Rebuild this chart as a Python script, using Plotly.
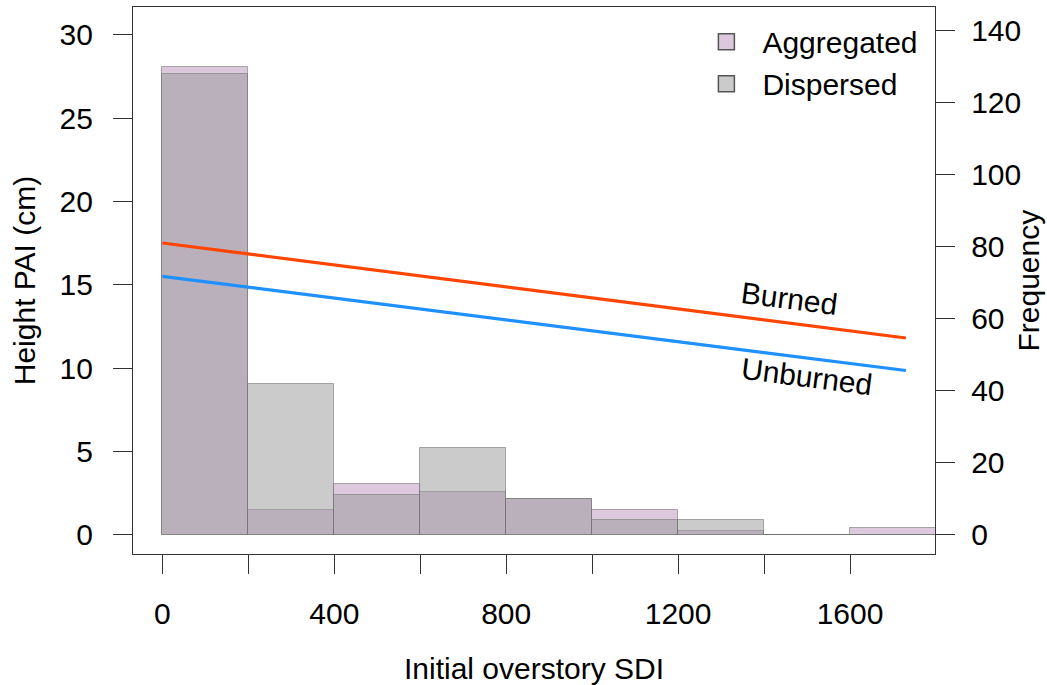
import plotly.graph_objects as go

# ---- data ----
bin_centers = [100, 300, 500, 700, 900, 1100, 1300, 1500, 1700]
aggregated = [130, 7, 14, 12, 10, 7, 1, 0, 2]
dispersed = [128, 42, 11, 24, 10, 4, 4, 0, 0]
line_x = [0, 1730]
burned = [17.5, 11.8]
unburned = [15.5, 9.85]
x_tickvals = [0, 200, 400, 600, 800, 1000, 1200, 1400, 1600]
x_ticktext = ["0", "", "400", "", "800", "", "1200", "", "1600"]

FONT = "Liberation Sans, Arial, sans-serif"
FS = 30
AX = "#333333"
PINK = "rgba(187,147,189,0.5)"
GRAY = "rgba(151,151,151,0.5)"

fig = go.Figure()
fig.add_trace(go.Bar(x=bin_centers, y=aggregated, width=200, name="Aggregated",
                     marker=dict(color=PINK, line=dict(color="rgba(110,110,110,0.55)", width=1)),
                     yaxis="y", showlegend=False, legendgroup="agg"))
fig.add_trace(go.Bar(x=bin_centers, y=dispersed, width=200, name="Dispersed",
                     marker=dict(color=GRAY, line=dict(color="rgba(110,110,110,0.55)", width=1)),
                     yaxis="y", showlegend=False, legendgroup="disp"))
# legend entries (square keys like the reference)
fig.add_trace(go.Scatter(x=[None], y=[None], mode="markers", name="Aggregated", legendgroup="agg",
                         marker=dict(symbol="square", size=22, color="#dcc8dd",
                                     line=dict(color="#555555", width=1.5)), yaxis="y"))
fig.add_trace(go.Scatter(x=[None], y=[None], mode="markers", name="Dispersed", legendgroup="disp",
                         marker=dict(symbol="square", size=22, color="#cbcbcb",
                                     line=dict(color="#555555", width=1.5)), yaxis="y"))
fig.add_trace(go.Scatter(x=line_x, y=burned, mode="lines", line=dict(color="#FF4500", width=3.2),
                         showlegend=False, yaxis="y2"))
fig.add_trace(go.Scatter(x=line_x, y=unburned, mode="lines", line=dict(color="#1E90FF", width=3.2),
                         showlegend=False, yaxis="y2"))

fig.add_annotation(x=1458, y=14.2, xref="x", yref="y2", text="Burned", showarrow=False,
                   textangle=7.3, font=dict(family=FONT, size=FS, color="black"))
fig.add_annotation(x=1500, y=9.5, xref="x", yref="y2", text="Unburned", showarrow=False,
                   textangle=7.3, font=dict(family=FONT, size=FS, color="black"))
# right axis title
fig.add_annotation(x=1.116, y=0.5, xref="paper", yref="paper", text="Frequency", showarrow=False,
                   textangle=-90, xanchor="center", yanchor="middle",
                   font=dict(family=FONT, size=FS, color="black"))

fig.update_layout(
    width=1047, height=685,
    margin=dict(l=133, r=112, t=7, b=131, autoexpand=False),
    paper_bgcolor="white", plot_bgcolor="white",
    barmode="overlay", bargap=0,
    font=dict(family=FONT, size=FS, color="black"),
    showlegend=True,
    legend=dict(x=0.695, y=0.984, xanchor="left", yanchor="top", bgcolor="rgba(0,0,0,0)",
                font=dict(family=FONT, size=FS), tracegroupgap=0, itemwidth=62,
                traceorder="normal"),
    xaxis=dict(range=[-68.4, 1797.7], tickvals=x_tickvals, ticktext=x_ticktext,
               ticks="outside", ticklen=19, tickcolor=AX, tickwidth=1.3,
               showline=True, linecolor=AX, linewidth=1.3, mirror=True,
               showgrid=False, zeroline=False, ticklabelstandoff=14, automargin=False,
               title=dict(text="Initial overstory SDI", standoff=30,
                          font=dict(family=FONT, size=FS))),
    yaxis=dict(range=[-5.36, 146.6], side="right", tickvals=[0, 20, 40, 60, 80, 100, 120, 140],
               ticks="outside", ticklen=19, tickcolor=AX, tickwidth=1.3,
               showline=True, linecolor=AX, linewidth=1.3,
               showgrid=False, zeroline=False, ticklabelstandoff=10, automargin=False),
    yaxis2=dict(range=[-1.16, 31.66], overlaying="y", side="left",
                tickvals=[0, 5, 10, 15, 20, 25, 30],
                ticks="outside", ticklen=19, tickcolor=AX, tickwidth=1.3,
                showline=True, linecolor=AX, linewidth=1.3,
                showgrid=False, zeroline=False, ticklabelstandoff=14, automargin=False,
                title=dict(text="Height PAI (cm)", standoff=14, font=dict(family=FONT, size=FS))),
)

fig.write_html("out.html", config={"displayModeBar": False},
               post_script="document.body.style.margin='0px';")
